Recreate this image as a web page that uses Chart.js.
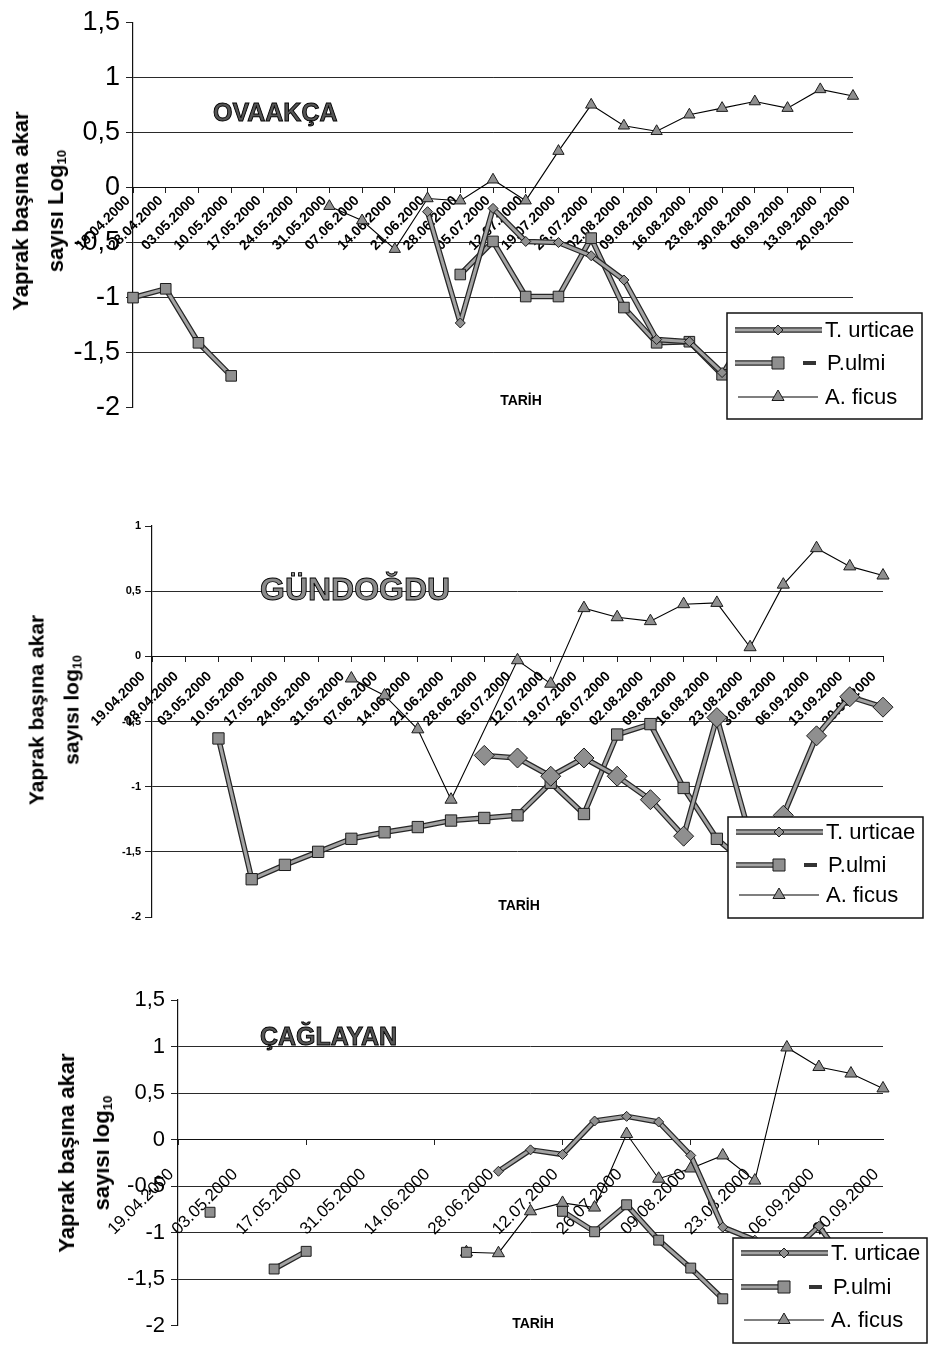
<!doctype html>
<html><head><meta charset="utf-8"><title>Akar yoğunluğu</title>
<script src="https://cdn.jsdelivr.net/npm/chart.js"></script>
<style>
  body { margin: 0; width: 934px; height: 1345px; position: relative; background: #fff; overflow: hidden;
         font-family: "Liberation Sans", Arial, sans-serif; color: #000; }
  canvas { position: absolute; left: 0; }
  .t { position: absolute; white-space: nowrap; line-height: 1; font-weight: bold; }
  .site { color: #555; -webkit-text-stroke: 0.9px #000; }
  .tarih { font-size: 14px; transform: translateX(-50%); }
  .ytitle { position: absolute; white-space: nowrap; text-align: center; font-weight: bold;
            line-height: 35px; transform: translate(-50%, -50%) rotate(-90deg); }
  .ytitle sub { font-size: 60%; vertical-align: -3px; }
</style>
</head><body>
<canvas id="c1" width="934" height="430" style="top:0"></canvas>
<canvas id="c2" width="934" height="430" style="top:500px"></canvas>
<canvas id="c3" width="934" height="370" style="top:975px"></canvas>

<div class="t site" style="left:213px; top:100px; font-size:25px">OVAAKÇA</div>
<div class="ytitle" style="left:41px; top:211px; font-size:22px">Yaprak başına akar<br>sayısı Log<sub>10</sub></div>
<div class="t tarih" style="left:521px; top:393px">TARİH</div>

<div class="t site" style="left:260px; top:573px; font-size:32px; color:#8a8a8a">GÜNDOĞDU</div>
<div class="ytitle" style="left:57px; top:710px; font-size:21px">Yaprak başına akar<br>sayısı log<sub>10</sub></div>
<div class="t tarih" style="left:519px; top:898px">TARİH</div>

<div class="t site" style="left:260px; top:1024px; font-size:25px">ÇAĞLAYAN</div>
<div class="ytitle" style="left:87px; top:1153px; font-size:22px">Yaprak başına akar<br>sayısı log<sub>10</sub></div>
<div class="t tarih" style="left:533px; top:1316px">TARİH</div>

<script>
// sampling dates (shared by the three sites)
const DATES = ['19.04.2000', '28.04.2000', '03.05.2000', '10.05.2000', '17.05.2000', '24.05.2000',
  '31.05.2000', '07.06.2000', '14.06.2000', '21.06.2000', '28.06.2000', '05.07.2000', '12.07.2000',
  '19.07.2000', '26.07.2000', '02.08.2000', '09.08.2000', '16.08.2000', '23.08.2000', '30.08.2000',
  '06.09.2000', '13.09.2000', '20.09.2000'];
const SPECIES = ['T. urticae', 'P.ulmi', 'A. ficus'];
const _ = null;

// OVAAKÇA (log10 mites per leaf)
const OVA_TU = [_, _, _, _, _, _, _, _, _, -0.22, -1.23, -0.19, -0.49, -0.5, -0.62, -0.84, -1.38, -1.4, -1.68, _, _, _, _];
const OVA_PU = [-1.0, -0.92, -1.41, -1.71, _, _, _, _, _, _, -0.79, -0.49, -0.99, -0.99, -0.46, -1.09, -1.41, -1.4, -1.7, -1.22, -1.22, -1.37, -1.37];
const OVA_AF = [_, _, _, _, _, _, -0.17, -0.3, -0.56, -0.1, -0.12, 0.07, -0.12, 0.33, 0.75, 0.56, 0.51, 0.66, 0.72, 0.78, 0.72, 0.89, 0.83];

// GÜNDOĞDU
const GUN_TU = [_, _, _, _, _, _, _, _, _, _, -0.76, -0.78, -0.92, -0.78, -0.92, -1.1, -1.38, -0.47, -1.38, -1.22, -0.61, -0.31, -0.39];
const GUN_PU = [_, _, -0.63, -1.71, -1.6, -1.5, -1.4, -1.35, -1.31, -1.26, -1.24, -1.22, -0.97, -1.21, -0.6, -0.52, -1.01, -1.4, -1.62, -1.42, -1.4, -1.4, _];
const GUN_AF = [_, _, _, _, _, _, -0.17, -0.3, -0.56, -1.1, _, -0.03, -0.21, 0.37, 0.3, 0.27, 0.4, 0.41, 0.07, 0.55, 0.83, 0.69, 0.62];

// ÇAĞLAYAN
const CAG_TU = [_, _, _, _, _, _, _, _, _, _, -0.34, -0.11, -0.16, 0.2, 0.25, 0.19, -0.17, -0.94, -1.08, -1.25, -0.93, -1.4, _];
const CAG_PU = [_, -0.78, _, -1.39, -1.2, _, _, _, _, -1.21, _, _, -0.77, -0.99, -0.7, -1.08, -1.38, -1.71, _, _, _, _, _];
const CAG_AF = [_, _, _, _, _, _, _, _, _, -1.21, -1.22, -0.77, -0.68, -0.73, 0.06, -0.42, -0.31, -0.17, -0.44, 0.99, 0.78, 0.71, 0.55];

Chart.defaults.font.family = '"Liberation Sans", Arial, sans-serif';
Chart.defaults.color = '#000';

const FILL = '#8f8f8f', DARK = '#1c1c1c';

// dark outline under the thick grey lines (scan look)
const edgePlugin = {
  id: 'edge',
  beforeDatasetDraw(chart, args) {
    const ds = chart.data.datasets[args.index];
    if (!ds.edgeColor) return;
    const ctx = chart.ctx, a = chart.chartArea;
    ctx.save();
    ctx.beginPath(); ctx.rect(a.left, a.top - 4, a.width, a.height + 8); ctx.clip();
    ctx.beginPath();
    let pen = false;
    args.meta.data.forEach(p => {
      if (p.skip) { pen = false; return; }
      if (pen) ctx.lineTo(p.x, p.y); else ctx.moveTo(p.x, p.y);
      pen = true;
    });
    ctx.lineWidth = ds.borderWidth + 2.5;
    ctx.strokeStyle = ds.edgeColor;
    ctx.lineJoin = 'round';
    ctx.stroke();
    ctx.restore();
  }
};

function marker(ctx, style, r, x, y) {
  ctx.beginPath();
  if (style === 'rect') {
    const s = r * Math.SQRT1_2;
    ctx.rect(x - s, y - s, 2 * s, 2 * s);
  } else if (style === 'rectRot') {
    ctx.moveTo(x - r, y); ctx.lineTo(x, y - r); ctx.lineTo(x + r, y); ctx.lineTo(x, y + r); ctx.closePath();
  } else {
    const h = r * 1.5, w = r * 1.73;
    ctx.moveTo(x, y - r); ctx.lineTo(x + w / 2, y + h - r); ctx.lineTo(x - w / 2, y + h - r); ctx.closePath();
  }
  ctx.fillStyle = FILL; ctx.fill();
  ctx.strokeStyle = DARK; ctx.lineWidth = 1; ctx.stroke();
}

// boxed legend drawn over the plot, as in the original
const boxLegend = {
  id: 'boxLegend',
  afterDraw(chart, args, o) {
    const ctx = chart.ctx, b = o.box;
    ctx.save();
    ctx.fillStyle = '#fff'; ctx.fillRect(b.x, b.y, b.w, b.h);
    ctx.strokeStyle = '#111'; ctx.lineWidth = 1.5; ctx.strokeRect(b.x, b.y, b.w, b.h);
    chart.data.datasets.forEach((ds, i) => {
      const y = b.y + o.rows[i];
      const x0 = b.x + (i === 2 ? 11 : 8);
      const x1 = b.x + (i === 1 ? 56 : (i === 2 ? 91 : 95));
      const seg = (w, c) => { ctx.beginPath(); ctx.moveTo(x0, y); ctx.lineTo(x1, y); ctx.lineWidth = w; ctx.strokeStyle = c; ctx.stroke(); };
      if (ds.edgeColor) seg(ds.borderWidth + 2.5, ds.edgeColor);
      seg(ds.borderWidth, ds.borderColor);
      marker(ctx, ds.pointStyle, o.radii[i], b.x + 51, y);
      if (i === 1) { ctx.fillStyle = '#333'; ctx.fillRect(b.x + 76, y - 2, 13, 4); }
      ctx.fillStyle = '#000';
      ctx.font = '22px "Liberation Sans", Arial, sans-serif';
      ctx.textBaseline = 'middle';
      ctx.fillText(ds.label, b.x + (i === 1 ? 100 : 98), y + 1);
    });
    ctx.restore();
  }
};

function makeChart(id, s) {
  const thick = (label, data, style, r) => ({
    label, data, pointStyle: style, pointRadius: r, borderColor: '#a3a3a3', edgeColor: '#262626',
    borderWidth: 3, pointBackgroundColor: FILL, pointBorderColor: DARK, pointBorderWidth: 1, tension: 0
  });
  const datasets = [
    thick(SPECIES[0], s.tu, 'rectRot', s.r[0]),
    thick(SPECIES[1], s.pu, 'rect', s.r[1]),
    { label: SPECIES[2], data: s.af, pointStyle: 'triangle', pointRadius: s.r[2], borderColor: '#000',
      borderWidth: 1.1, pointBackgroundColor: FILL, pointBorderColor: DARK, pointBorderWidth: 1,
      tension: 0, spanGaps: true }
  ];
  const H = document.getElementById(id).height;
  const a = s.area;
  new Chart(document.getElementById(id), {
    type: 'line',
    data: { labels: DATES, datasets },
    plugins: [edgePlugin, boxLegend],
    options: {
      responsive: false, animation: false, events: [],
      layout: { padding: { left: 0, top: a.top, right: 934 - a.right, bottom: H - a.bottom - s.xBox } },
      plugins: { legend: { display: false }, tooltip: { enabled: false },
                 boxLegend: { box: s.legend, rows: s.rows, radii: s.lr } },
      scales: {
        x: {
          position: { y: 0 }, offset: false,
          afterFit: sc => { sc.height = s.xBox; },
          ticks: { autoSkip: false, minRotation: 45, maxRotation: 45, color: '#000',
                   font: s.xFont, padding: s.xPad, labelOffset: s.xShift,
                   callback: (v, i) => (i % s.every ? null : DATES[i]) },
          grid: { drawOnChartArea: false, tickLength: 5, lineWidth: 1,
                  tickColor: c => (c.index % s.every ? 'rgba(0,0,0,0)' : '#222') },
          border: { color: '#111', width: 1 }
        },
        y: {
          min: s.yMin, max: s.yMax,
          afterFit: sc => { sc.width = a.left; },
          ticks: { stepSize: 0.5, color: '#000', font: s.yFont, padding: s.yPad,
                   callback: v => String(v).replace('.', ',') },
          grid: { tickLength: 7, lineWidth: 1, tickColor: '#222',
                  color: c => (c.tick && (c.tick.value === s.yMax || c.tick.value === s.yMin) ? 'rgba(0,0,0,0)' : '#2a2a2a') },
          border: { color: '#111', width: 1.2 }
        }
      }
    }
  });
}

makeChart('c1', {
  tu: OVA_TU, pu: OVA_PU, af: OVA_AF, r: [5, 7.5, 6.5],
  area: { left: 133, top: 18, right: 853, bottom: 373 }, xBox: 45,
  yMin: -2, yMax: 1.5, yFont: { size: 27 }, yPad: 6,
  xFont: { size: 14, weight: 'bold' }, xPad: 0, xShift: -5, every: 1,
  legend: { x: 727, y: 313, w: 195, h: 106 }, rows: [17, 50, 84], lr: [5, 8.5, 7]
});
makeChart('c2', {
  tu: GUN_TU, pu: GUN_PU, af: GUN_AF, r: [10, 8, 7],
  area: { left: 152, top: 26, right: 883, bottom: 387 }, xBox: 30,
  yMin: -2, yMax: 1, yFont: { size: 11, weight: 'bold' }, yPad: 4,
  xFont: { size: 14, weight: 'bold' }, xPad: 7, xShift: -9, every: 1,
  legend: { x: 728, y: 317, w: 195, h: 101 }, rows: [15, 48, 78], lr: [5, 8.5, 7]
});
makeChart('c3', {
  tu: CAG_TU, pu: CAG_PU, af: CAG_AF, r: [5, 7, 7],
  area: { left: 178, top: 25, right: 883, bottom: 343 }, xBox: 20,
  yMin: -2, yMax: 1.5, yFont: { size: 22 }, yPad: 6,
  xFont: { size: 17 }, xPad: 20, xShift: -7, every: 2,
  legend: { x: 733, y: 263, w: 194, h: 105 }, rows: [15, 49, 82], lr: [5, 8.5, 7]
});
</script>
</body></html>
